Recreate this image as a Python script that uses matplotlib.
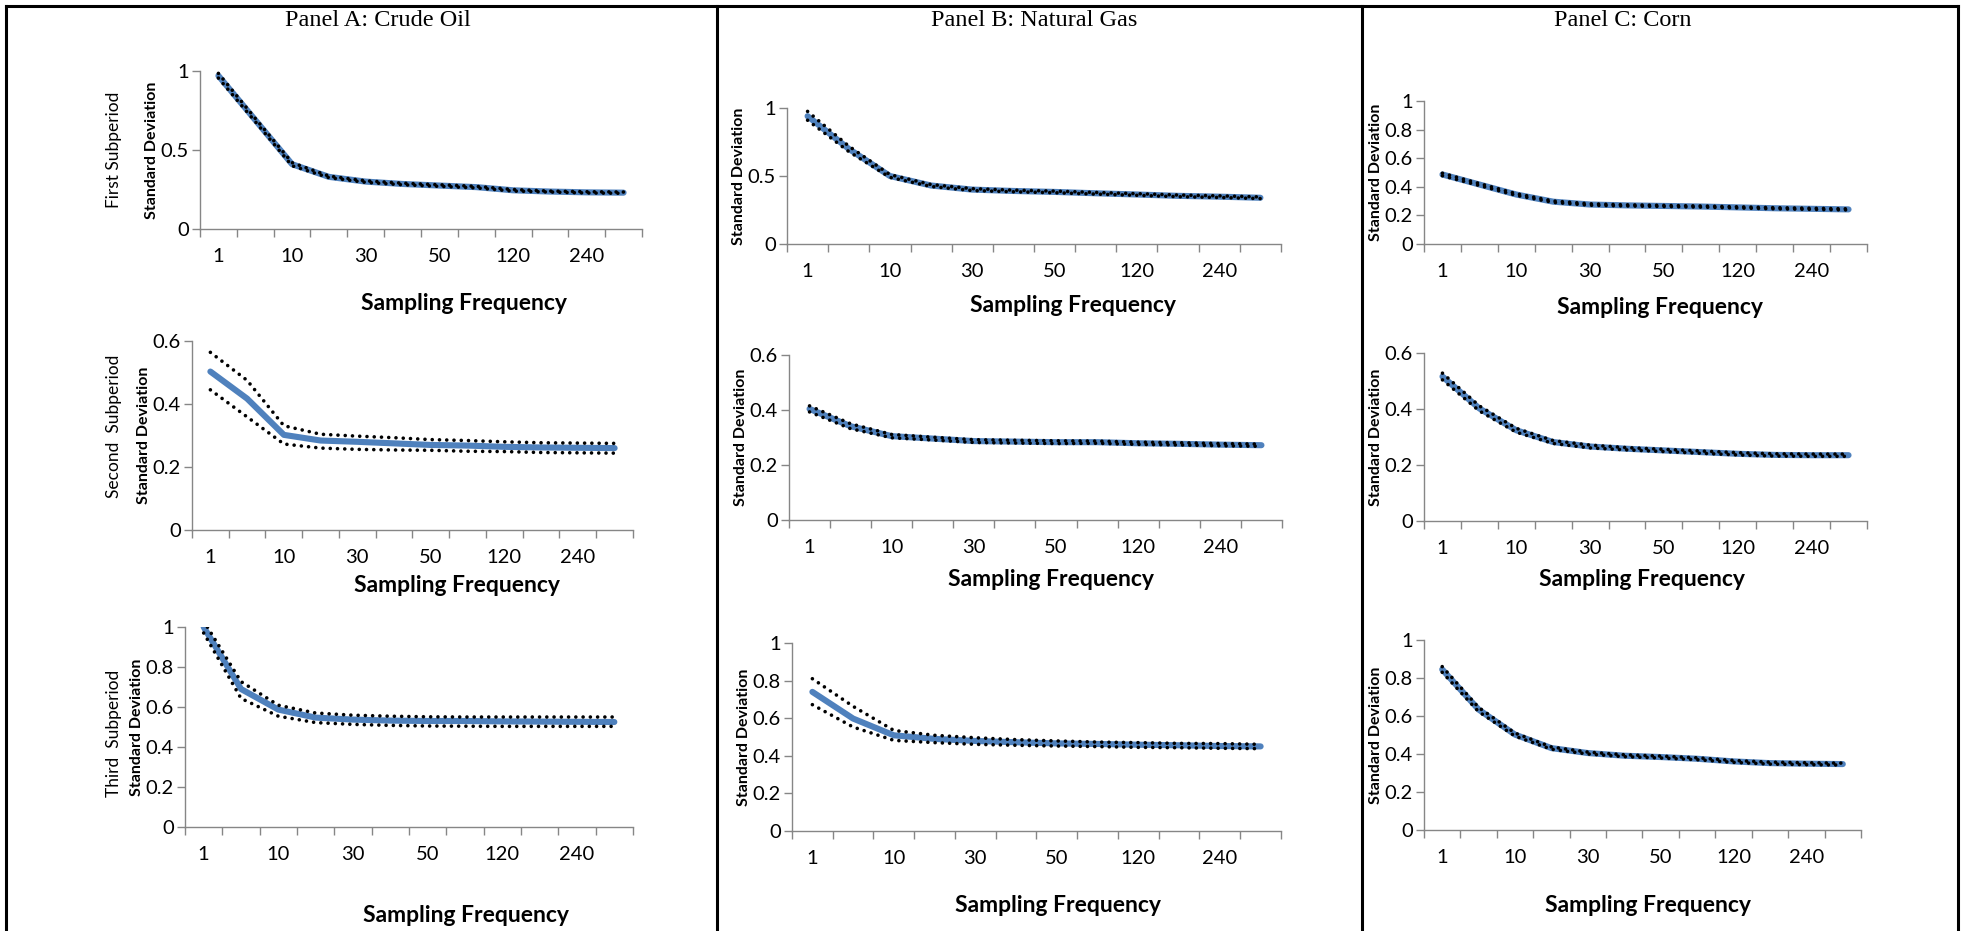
import matplotlib.pyplot as plt
from matplotlib.lines import Line2D
import numpy as np

# category axis (12 categories, every other one labelled)
freq_labels = ["1", "", "10", "", "30", "", "50", "", "120", "", "240", ""]

panels = ["Panel A: Crude Oil", "Panel B: Natural Gas", "Panel C: Corn"]
periods = ["First Subperiod", "Second  Subperiod", "Third  Subperiod"]

# Panel A: crude oil
oil1_mean = [0.97, 0.69, 0.41, 0.33, 0.30, 0.285, 0.275, 0.265, 0.245, 0.237, 0.232, 0.23]
oil1_up = [0.985, 0.70, 0.42, 0.335, 0.305, 0.29, 0.28, 0.27, 0.25, 0.24, 0.236, 0.234]
oil1_lo = [0.955, 0.68, 0.40, 0.325, 0.295, 0.28, 0.27, 0.26, 0.24, 0.234, 0.228, 0.226]
oil2_mean = [0.503, 0.417, 0.302, 0.284, 0.28, 0.275, 0.27, 0.268, 0.264, 0.262, 0.261, 0.26]
oil2_up = [0.564, 0.475, 0.331, 0.304, 0.298, 0.293, 0.287, 0.284, 0.28, 0.277, 0.276, 0.275]
oil2_lo = [0.445, 0.359, 0.273, 0.26, 0.256, 0.254, 0.253, 0.25, 0.249, 0.246, 0.245, 0.244]
oil3_mean = [1.0, 0.69, 0.587, 0.547, 0.537, 0.532, 0.53, 0.53, 0.528, 0.527, 0.526, 0.525]
oil3_up = [1.03, 0.727, 0.609, 0.57, 0.559, 0.554, 0.551, 0.55, 0.55, 0.55, 0.55, 0.55]
oil3_lo = [0.97, 0.643, 0.554, 0.522, 0.513, 0.508, 0.505, 0.504, 0.503, 0.503, 0.503, 0.503]

# Panel B: natural gas
gas1_mean = [0.94, 0.70, 0.50, 0.43, 0.40, 0.39, 0.383, 0.373, 0.364, 0.354, 0.348, 0.34]
gas1_up = [0.975, 0.72, 0.51, 0.437, 0.407, 0.396, 0.389, 0.379, 0.37, 0.36, 0.354, 0.346]
gas1_lo = [0.91, 0.68, 0.49, 0.423, 0.393, 0.384, 0.377, 0.367, 0.358, 0.348, 0.342, 0.334]
gas2_mean = [0.404, 0.341, 0.305, 0.296, 0.287, 0.285, 0.283, 0.283, 0.279, 0.277, 0.274, 0.272]
gas2_up = [0.415, 0.35, 0.311, 0.301, 0.292, 0.29, 0.288, 0.287, 0.283, 0.281, 0.278, 0.276]
gas2_lo = [0.393, 0.332, 0.299, 0.291, 0.282, 0.28, 0.278, 0.279, 0.275, 0.273, 0.27, 0.268]
gas3_mean = [0.74, 0.598, 0.509, 0.49, 0.479, 0.472, 0.466, 0.463, 0.459, 0.456, 0.452, 0.45]
gas3_up = [0.81, 0.663, 0.535, 0.509, 0.496, 0.486, 0.479, 0.473, 0.47, 0.466, 0.465, 0.461]
gas3_lo = [0.672, 0.553, 0.482, 0.47, 0.461, 0.456, 0.452, 0.449, 0.445, 0.443, 0.44, 0.438]

# Panel C: corn
corn1_mean = [0.486, 0.416, 0.346, 0.296, 0.276, 0.27, 0.266, 0.262, 0.256, 0.25, 0.246, 0.242]
corn1_up = [0.495, 0.423, 0.352, 0.301, 0.281, 0.274, 0.27, 0.266, 0.26, 0.254, 0.25, 0.246]
corn1_lo = [0.477, 0.409, 0.34, 0.291, 0.271, 0.266, 0.262, 0.258, 0.252, 0.246, 0.242, 0.238]
corn2_mean = [0.516, 0.402, 0.324, 0.282, 0.266, 0.258, 0.252, 0.246, 0.24, 0.236, 0.235, 0.235]
corn2_up = [0.528, 0.411, 0.331, 0.287, 0.271, 0.262, 0.256, 0.25, 0.244, 0.24, 0.239, 0.239]
corn2_lo = [0.504, 0.393, 0.317, 0.277, 0.261, 0.254, 0.248, 0.242, 0.236, 0.232, 0.231, 0.231]
corn3_mean = [0.845, 0.634, 0.502, 0.431, 0.405, 0.391, 0.384, 0.375, 0.361, 0.352, 0.349, 0.347]
corn3_up = [0.86, 0.645, 0.51, 0.437, 0.41, 0.396, 0.389, 0.38, 0.366, 0.357, 0.354, 0.352]
corn3_lo = [0.83, 0.623, 0.494, 0.425, 0.4, 0.386, 0.379, 0.37, 0.356, 0.347, 0.344, 0.342]

yticks_half = [0, 0.5, 1]
yticks_06 = [0, 0.2, 0.4, 0.6]
yticks_1 = [0, 0.2, 0.4, 0.6, 0.8, 1]

W, H = 1965, 931
BLUE = "#4F81BD"
GREY = "#868686"
SANS = "Lato"

fig = plt.figure(figsize=(W / 100, H / 100), dpi=100)


def px(x, y):
    return x / W, 1 - y / H


# pixel layout: (x_left, x_right, y_top, y_zero, xlabel xy)
layout = [
    [(200, 642, 71, 229, (464, 303)),
     (192, 633, 341, 530, (457, 585)),
     (185, 633, 627, 827, (466, 915))],
    [(787, 1281, 108, 244, (1073, 306)),
     (789, 1282, 355, 520, (1051, 580)),
     (792, 1281, 643, 831, (1058, 905))],
    [(1424, 1867, 101, 244, (1660, 307)),
     (1424, 1867, 353, 521, (1642, 579)),
     (1424, 1861, 640, 830, (1648, 906))],
]

series = [
    [(oil1_mean, oil1_up, oil1_lo, yticks_half),
     (oil2_mean, oil2_up, oil2_lo, yticks_06),
     (oil3_mean, oil3_up, oil3_lo, yticks_1)],
    [(gas1_mean, gas1_up, gas1_lo, yticks_half),
     (gas2_mean, gas2_up, gas2_lo, yticks_06),
     (gas3_mean, gas3_up, gas3_lo, yticks_1)],
    [(corn1_mean, corn1_up, corn1_lo, yticks_1),
     (corn2_mean, corn2_up, corn2_lo, yticks_06),
     (corn3_mean, corn3_up, corn3_lo, yticks_1)],
]

cats = np.arange(len(freq_labels))

for col in range(3):
    for row in range(3):
        x0, x1, ytop, yzero, xlab = layout[col][row]
        mean, up, lo, yt = series[col][row]
        ax = fig.add_axes([x0 / W, 1 - yzero / H, (x1 - x0) / W, (yzero - ytop) / H])
        ax.plot(cats, mean, color=BLUE, lw=4.4, solid_capstyle="round", zorder=2)
        for band in (up, lo):
            ax.plot(cats, band, color="black", lw=2.6, ls=(0, (0.01, 2.0)),
                    dash_capstyle="round", zorder=3)
        ax.set_xlim(-0.5, len(cats) - 0.5)
        ax.set_ylim(0, yt[-1])
        ax.set_yticks(yt, [f"{v:g}" for v in yt])
        ax.set_xticks(cats, freq_labels)
        ax.set_xticks(np.arange(len(cats) + 1) - 0.5, minor=True)
        ax.tick_params(axis="x", which="major", length=0, pad=14)
        ax.tick_params(axis="x", which="minor", length=6, width=1, color=GREY, direction="out")
        ax.tick_params(axis="y", length=6, width=1, color=GREY, pad=2)
        for lab in ax.get_xticklabels() + ax.get_yticklabels():
            lab.set_fontfamily(SANS)
            lab.set_fontsize(14.5)
        for s in ("top", "right"):
            ax.spines[s].set_visible(False)
        for s in ("left", "bottom"):
            ax.spines[s].set_color(GREY)
            ax.spines[s].set_linewidth(1)
        ax.patch.set_alpha(0)
        ax.set_ylabel("Standard Deviation", family=SANS, weight="bold",
                      fontsize=11.5, labelpad=1)
        fig.text(*px(*xlab), "Sampling Frequency", ha="center", va="center",
                 family=SANS, weight="bold", fontsize=16.5)

# table headers and row labels
for title, cx in zip(panels, [378, 1034, 1623]):
    fig.text(*px(cx, 20), title, ha="center", va="center",
             family="Liberation Serif", fontsize=17.5)
for lab, cy in zip(periods, [150, 426, 733]):
    fig.text(*px(114, cy), lab, rotation=90, ha="center", va="center",
             family=SANS, fontsize=12.5)

# table borders
def fline(xs, ys):
    fig.add_artist(Line2D([x / W for x in xs], [1 - y / H for y in ys],
                          color="black", lw=2.2, transform=fig.transFigure))

fline([6, 1958], [6, 6])
fline([6, 6], [6, 931])
fline([1958, 1958], [6, 931])
fline([717, 717], [6, 931])
fline([1362, 1362], [6, 931])

fig.savefig("out.png", dpi=100)
